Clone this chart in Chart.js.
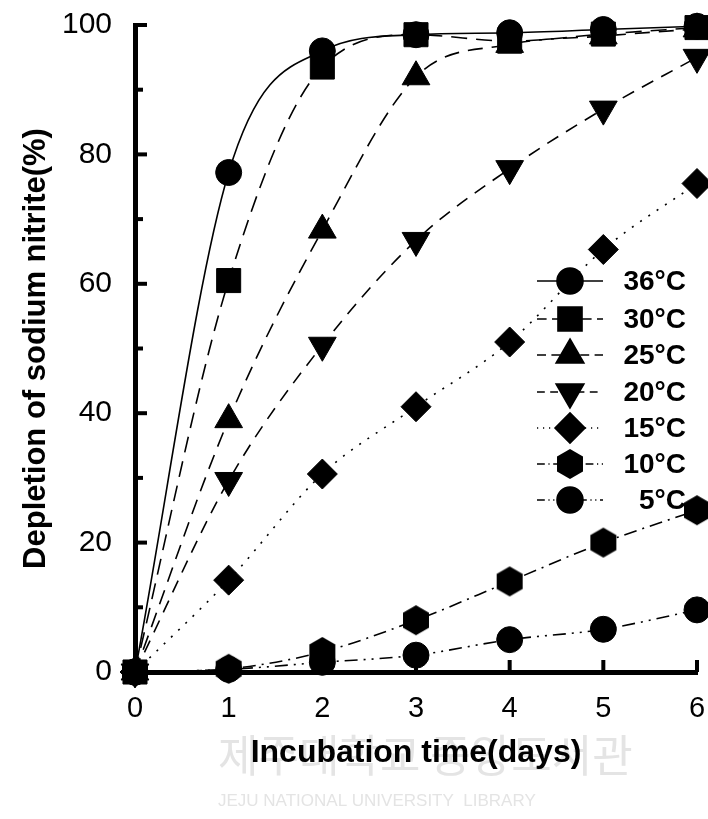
<!DOCTYPE html>
<html>
<head>
<meta charset="utf-8">
<script src="https://cdn.jsdelivr.net/npm/chart.js@4"></script>
<style>
  html, body { margin: 0; padding: 0; background: #fff; }
  #wrap { width: 708px; height: 819px; }
</style>
</head>
<body>
<div id="wrap"><canvas id="chart" width="708" height="819"></canvas></div>
<script>
// days of incubation and depletion (%) per temperature
const days = [0, 1, 2, 3, 4, 5, 6];
const labels = ['36\u00B0C', '30\u00B0C', '25\u00B0C', '20\u00B0C', '15\u00B0C', '10\u00B0C', '5\u00B0C'];
const t36 = [0, 77.2, 96, 98.5, 98.8, 99.3, 99.8];
const t30 = [0, 60.5, 93.5, 98.5, 97.5, 98.6, 99.6];
const t25 = [0, 39, 68.3, 92, 97, 98.3, 99.4];
const t20 = [0, 29.6, 50.5, 66.7, 77.8, 87, 95];
const t15 = [0, 14.2, 30.6, 41, 51, 65.3, 75.5];
const t10 = [0, 0.5, 3.1, 8, 14, 20, 25];
const t5 = [0, 0.4, 1.5, 2.6, 5, 6.6, 9.6];
const yTicks = [0, 20, 40, 60, 80, 100];

const FONT = '"Liberation Sans", Arial, sans-serif';

// hexagon marker (no built-in one)
function hexagon(r) {
  const c = document.createElement('canvas');
  const s = Math.ceil(r * 2) + 2;
  c.width = s; c.height = s;
  const g = c.getContext('2d');
  g.fillStyle = '#000';
  g.beginPath();
  for (let i = 0; i < 6; i++) {
    const a = Math.PI / 2 + i * Math.PI / 3;
    const px = s / 2 + r * Math.cos(a), py = s / 2 - r * Math.sin(a);
    if (i === 0) g.moveTo(px, py); else g.lineTo(px, py);
  }
  g.closePath();
  g.fill();
  return c;
}
const hex = hexagon(15);

function pts(arr) {
  return days.map((d, i) => ({ x: d, y: arr[i] }));
}

function series(label, arr, style, radius, dash, rot) {
  return {
    label: label,
    data: pts(arr),
    borderColor: '#000',
    backgroundColor: '#000',
    borderWidth: 1.6,
    borderDash: dash,
    pointStyle: style,
    pointRadius: radius,
    pointHoverRadius: radius,
    pointRotation: rot || 0,
    pointBorderWidth: 1,
    cubicInterpolationMode: 'monotone',
    clip: false
  };
}

const datasets = [
  series(labels[0], t36, 'circle', 13, []),
  series(labels[1], t30, 'rect', 17, [16, 9]),
  series(labels[2], t25, 'triangle', 16, [15, 9]),
  series(labels[3], t20, 'triangle', 16, [13, 9], 180),
  series(labels[4], t15, 'rectRot', 15, [2, 8]),
  series(labels[5], t10, hex, 15, [13, 6, 2, 6]),
  series(labels[6], t5, 'circle', 13, [13, 6, 2, 6, 2, 6])
];

// inward tick marks on both axes
const innerTicks = {
  id: 'innerTicks',
  afterDatasetsDraw(chart) {
    const ctx = chart.ctx;
    const x = chart.scales.x, y = chart.scales.y;
    ctx.save();
    ctx.strokeStyle = '#000';
    ctx.lineWidth = 4;
    for (let v = 0; v <= 100; v += 10) {
      const py = y.getPixelForValue(v);
      const len = v % 20 === 0 ? 12 : 8;
      ctx.beginPath();
      ctx.moveTo(x.left, py);
      ctx.lineTo(x.left + len, py);
      ctx.stroke();
    }
    for (let d = 1; d <= 6; d++) {
      const px = x.getPixelForValue(d);
      ctx.beginPath();
      ctx.moveTo(px, y.bottom);
      ctx.lineTo(px, y.bottom - 12);
      ctx.stroke();
    }
    ctx.restore();
  }
};

// legend drawn inside the plot, as in the figure
const innerLegend = {
  id: 'innerLegend',
  afterDraw(chart) {
    const ctx = chart.ctx;
    const rows = [281, 319, 355, 392, 428, 464, 500];
    ctx.save();
    chart.data.datasets.forEach((ds, i) => {
      const yy = rows[i];
      ctx.strokeStyle = '#000';
      ctx.lineWidth = 1.6;
      ctx.setLineDash(ds.borderDash.length ? ds.borderDash.map(v => Math.max(1, v * 0.6)) : []);
      ctx.beginPath();
      ctx.moveTo(537, yy);
      ctx.lineTo(603, yy);
      ctx.stroke();
      ctx.setLineDash([]);
      Chart.helpers.drawPoint(ctx, {
        pointStyle: ds.pointStyle,
        radius: ds.pointRadius,
        rotation: ds.pointRotation,
        borderWidth: 1
      }, 570, yy);
      ctx.fillStyle = '#000';
      ctx.fill();
      ctx.font = 'bold 28px ' + FONT;
      ctx.textAlign = 'right';
      ctx.textBaseline = 'middle';
      ctx.fillText(ds.label, 686, yy + 1);
    });
    ctx.restore();
  }
};

// faint library watermark under the x title
const watermark = {
  id: 'watermark',
  beforeDraw(chart) {
    const ctx = chart.ctx;
    ctx.save();
    ctx.fillStyle = '#e4e4e4';
    ctx.textAlign = 'left';
    ctx.textBaseline = 'alphabetic';
    ctx.font = '44px "Noto Sans CJK KR", sans-serif';
    ctx.fillText('\uC81C\uC8FC\uB300\uD559\uAD50 \uC911\uC559\uB3C4\uC11C\uAD00', 218, 772);
    ctx.font = '17px ' + FONT;
    ctx.fillText('JEJU NATIONAL UNIVERSITY  LIBRARY', 218, 806);
    ctx.restore();
  }
};

new Chart(document.getElementById('chart'), {
  type: 'line',
  data: { datasets: datasets },
  options: {
    responsive: false,
    animation: false,
    events: [],
    layout: { autoPadding: false, padding: { top: 25, right: 11, left: 0, bottom: 40 } },
    plugins: {
      legend: { display: false },
      tooltip: { enabled: false }
    },
    scales: {
      x: {
        type: 'linear',
        min: 0,
        max: 6,
        afterFit(scale) {
          scale.height = 107;
          scale.paddingLeft = 0;
          scale.paddingRight = 0;
        },
        border: { color: '#000', width: 5 },
        grid: { display: false, drawTicks: false },
        ticks: {
          stepSize: 1,
          padding: 20,
          color: '#000',
          font: { family: FONT, size: 29 }
        },
        title: {
          display: true,
          text: 'Incubation time(days)',
          color: '#000',
          padding: { top: 0, bottom: 7 },
          font: { family: FONT, size: 32, weight: 'bold' }
        }
      },
      y: {
        min: 0,
        max: 100,
        afterFit(scale) {
          scale.width = 135;
          scale.paddingTop = 0;
          scale.paddingBottom = 0;
        },
        afterBuildTicks(scale) { scale.ticks = yTicks.map(v => ({ value: v })); },
        border: { color: '#000', width: 5 },
        grid: { display: false, drawTicks: false },
        ticks: {
          padding: 23,
          color: '#000',
          font: { family: FONT, size: 30 }
        },
        title: {
          display: true,
          text: 'Depletion of sodium nitrite(%)',
          color: '#000',
          padding: { top: 18, bottom: 0 },
          font: { family: FONT, size: 31, weight: 'bold' }
        }
      }
    }
  },
  plugins: [watermark, innerTicks, innerLegend]
});
</script>
</body>
</html>
